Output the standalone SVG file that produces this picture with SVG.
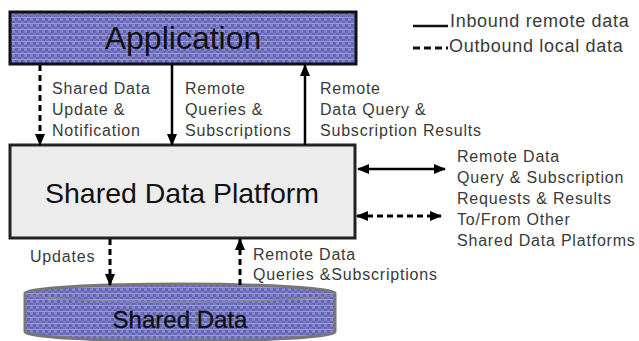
<svg xmlns="http://www.w3.org/2000/svg" width="639" height="341" viewBox="0 0 639 341">
<defs>
<pattern id="hatch" width="6" height="6" patternUnits="userSpaceOnUse">
<rect width="6" height="6" fill="#6565b6"/>
<rect x="0" y="0" width="3" height="3" fill="#8585cc"/>
<rect x="3" y="3" width="3" height="3" fill="#7a7ac4"/>
<rect x="0" y="5" width="6" height="1" fill="#9a9ad6"/>
</pattern>
<marker id="ah" viewBox="0 0 12 10" refX="11" refY="5" markerWidth="12" markerHeight="10" markerUnits="userSpaceOnUse" orient="auto-start-reverse">
<path d="M0,0 L12,5 L0,10 Z" fill="#000"/>
</marker>
<style>
.lbl{font-family:"Liberation Sans",Arial,sans-serif;font-size:16px;letter-spacing:0.8px;fill:#3a3a3a}
.leg{font-family:"Liberation Sans",Arial,sans-serif;font-size:18px;letter-spacing:0.7px;fill:#3a3a3a}
.big{font-family:"Liberation Sans",Arial,sans-serif;fill:#111}
.solid{stroke:#000;stroke-width:2.5;fill:none}
.dash{stroke:#000;stroke-width:3;fill:none;stroke-dasharray:6 4}
</style>
</defs>
<rect width="639" height="341" fill="#fff"/>
<g id="application">
<rect x="10" y="12" width="346" height="52" fill="url(#hatch)" stroke="#111" stroke-width="3"/>
<text class="big" x="183" y="49" text-anchor="middle" font-size="32">Application</text>
</g>
<g id="platform">
<rect x="10" y="145" width="345" height="93" fill="#ececec" stroke="#222" stroke-width="3"/>
<text class="big" x="182" y="203" text-anchor="middle" font-size="28.5">Shared Data Platform</text>
</g>
<g id="shared-data">
<path d="M25,293 A155,9 0 0 1 335,293 L335,332 A155,9 0 0 1 25,332 Z" fill="url(#hatch)" stroke="#777" stroke-width="3"/>
<path d="M25,293 A155,9 0 0 0 335,293" fill="none" stroke="#888" stroke-width="1.5"/>
<text class="big" x="180" y="328" text-anchor="middle" font-size="24" stroke="#111" stroke-width="0.4">Shared Data</text>
</g>
<g id="connectors">
<line class="dash" x1="40" y1="65" x2="40" y2="145" marker-end="url(#ah)"/>
<line class="solid" x1="172" y1="65" x2="172" y2="145" marker-end="url(#ah)"/>
<line class="solid" x1="305" y1="145" x2="305" y2="65" marker-end="url(#ah)"/>
<line class="dash" x1="110" y1="239" x2="110" y2="285" marker-end="url(#ah)"/>
<line class="dash" x1="240" y1="285" x2="240" y2="239" marker-end="url(#ah)"/>
<line class="solid" x1="358" y1="169" x2="445" y2="169" marker-start="url(#ah)" marker-end="url(#ah)"/>
<line class="dash" x1="357" y1="216" x2="441" y2="216" marker-start="url(#ah)" marker-end="url(#ah)"/>
</g>
<g id="labels">
<text class="lbl" x="52" y="94">Shared Data</text>
<text class="lbl" x="52" y="115">Update &amp;</text>
<text class="lbl" x="52" y="136">Notification</text>
<text class="lbl" x="185" y="94">Remote</text>
<text class="lbl" x="185" y="115">Queries &amp;</text>
<text class="lbl" x="185" y="136">Subscriptions</text>
<text class="lbl" x="320" y="94">Remote</text>
<text class="lbl" x="320" y="115">Data Query &amp;</text>
<text class="lbl" x="320" y="136">Subscription Results</text>
<text class="lbl" x="457" y="162">Remote Data</text>
<text class="lbl" x="457" y="183">Query &amp; Subscription</text>
<text class="lbl" x="457" y="204">Requests &amp; Results</text>
<text class="lbl" x="457" y="225">To/From Other</text>
<text class="lbl" x="457" y="246">Shared Data Platforms</text>
<text class="lbl" x="30" y="262">Updates</text>
<text class="lbl" x="253" y="260">Remote Data</text>
<text class="lbl" x="253" y="280">Queries &amp;Subscriptions</text>
</g>
<g id="legend">
<line x1="413" y1="26" x2="448" y2="26" stroke="#111" stroke-width="2.5"/>
<text class="leg" x="450" y="27">Inbound remote data</text>
<line x1="413" y1="48" x2="448" y2="48" stroke="#111" stroke-width="3" stroke-dasharray="7 4"/>
<text class="leg" x="449" y="52">Outbound local data</text>
</g>
</svg>
